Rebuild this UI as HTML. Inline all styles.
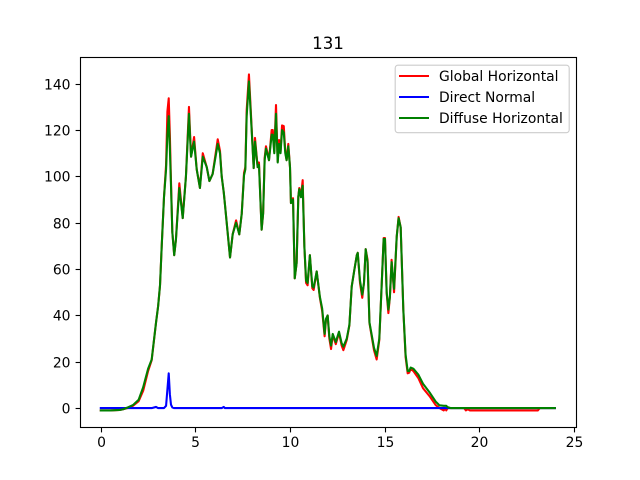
<!DOCTYPE html>
<html lang="en">
<head>
<meta charset="utf-8">
<title>131</title>
<style>
html,body{margin:0;padding:0;background:#fff}
svg{display:block}
text{font-family:"DejaVu Sans","Liberation Sans",sans-serif;fill:#000}
</style>
</head>
<body>
<svg id="chart" xmlns="http://www.w3.org/2000/svg" width="640" height="480" viewBox="0 0 640 480">
  <rect x="0" y="0" width="640" height="480" fill="#fff"/>
  <text x="328" y="49" font-size="16.67" text-anchor="middle">131</text>
  <g id="series"></g>
  <g id="axes"></g>
  <rect x="80.5" y="57.5" width="496" height="370" fill="none" stroke="#000" stroke-width="1.11"/>
  <g>
    <rect x="395.2" y="65.2" width="174" height="67.5" rx="2.8" fill="#fff" fill-opacity="0.8" stroke="#ccc" stroke-width="1.11"/>
    <line x1="399" x2="429" y1="76" y2="76" stroke="#f00" stroke-width="2.08"/>
    <text x="439" y="81" font-size="13.89">Global Horizontal</text>
    <line x1="399" x2="429" y1="97" y2="97" stroke="#00f" stroke-width="2.08"/>
    <text x="439" y="102" font-size="13.89">Direct Normal</text>
    <line x1="399" x2="429" y1="118" y2="118" stroke="#008000" stroke-width="2.08"/>
    <text x="439" y="123" font-size="13.89">Diffuse Horizontal</text>
  </g>
</svg>
<script>
const hours = [
  0,0.5,1.0,1.18,1.4,1.7,2.0,2.24,2.5,2.69,
  2.92,3.03,3.13,3.22,3.34,3.45,3.52,3.59,3.65,3.71,
  3.78,3.88,3.97,4.15,4.33,4.5,4.66,4.77,4.93,5.07,
  5.24,5.39,5.6,5.74,5.91,6.18,6.3,6.39,6.5,6.56,
  6.69,6.83,6.97,7.15,7.32,7.45,7.57,7.64,7.71,7.83,
  7.92,8.08,8.15,8.29,8.36,8.5,8.58,8.66,8.73,8.89,9.03,
  9.09,9.17,9.26,9.35,9.42,9.5,9.58,9.67,9.75,9.82,
  9.91,10.0,10.05,10.16,10.25,10.35,10.44,10.49,10.58,10.67,
  10.76,10.85,10.93,11.05,11.18,11.25,11.41,11.58,11.7,11.83,
  11.9,11.99,12.08,12.17,12.26,12.42,12.59,12.73,12.82,13.0,
  13.14,13.26,13.4,13.53,13.58,13.7,13.82,13.91,14.0,14.1,
  14.2,14.32,14.44,14.58,14.72,14.85,14.95,15.02,15.11,15.2,
  15.28,15.37,15.5,15.64,15.74,15.85,15.99,16.11,16.22,16.3,
  16.38,16.52,16.78,17.03,17.4,17.7,17.9,18.13,18.2,18.26,
  18.33,18.5,19.2,19.3,19.4,19.5,23.1,23.2,24
];
const globalHorizontal = [
  -1,-1,-0.8,-0.5,0,1,3,7.5,16,20.7,
  37,44,53,70,91,105,128,133.7,118,98,
  76,66,72.6,97,82,100,130,108.5,117,103,
  95,110,104,98,101,116,111,100,93,88,
  77,65,75,81,75,84,101.5,104,128.6,144,
  129.6,103.6,116.6,104,106,77,84,108,113,107,120,
  120,110.7,130.8,106.4,115.7,110.7,122,121.7,111,107,
  114,104,88.5,90.6,56,62.6,91.3,95,91.3,98.4,
  69.7,54,53,66,51.7,51,59,47.6,42,31,
  38,40,30,25.5,31.6,27.6,32.5,27,25,29.4,
  35.8,52.4,59.6,66,67,54,47.6,54,68.6,64,
  36.7,30.8,25,21,29.4,54,73.4,73.4,49.6,41,
  48,64,50,74,82.5,78,42.4,22,15,15.3,
  17,16,13,8.6,4.9,1.3,0,-1,0,-1,
  0,0,0,-1,-0.5,-1,-1,0,0
];
const directNormal = [
  0,0,0,0,0,0,0,0,0,0,
  0.5,0,0,0,0,1,8,15,6,1.5,
  0.3,0,0,0,0,0,0,0,0,0,
  0,0,0,0,0,0,0,0,0.5,0,
  0,0,0,0,0,0,0,0,0,0,
  0,0,0,0,0,0,0,0,0,0,0,
  0,0,0,0,0,0,0,0,0,0,
  0,0,0,0,0,0,0,0,0,0,
  0,0,0,0,0,0,0,0,0,0,
  0,0,0,0,0,0,0,0,0,0,
  0,0,0,0,0,0,0,0,0,0,
  0,0,0,0,0,0,0,0,0,0,
  0,0,0,0,0,0,0,0,0,0,
  0,0,0,0,0,0,0,0,0,0,
  0,0,0,0,0,0,0,0,0
];
const diffuseHorizontal = [
  -1,-1,-0.8,-0.5,0.2,1.3,3.6,9,17,21,
  37,44,53,70,91,103,118,126,112,96,
  76,66,72.6,95,82,100,127,108.5,115,103,
  95,108.5,104,98,101,114,110,100,93,88,
  77,65,75,80,75,84,100.5,103,126,141,
  128,103.6,115,104,105,77,84,107,112,107,118,
  118,110,127,106,114,110,120,119,110,107,
  113,104,88.5,90,56,62.6,91.3,94.5,91,96,
  69.7,55,54,66,52.5,52,59,48,43,32,
  38.5,40,31,27,32,28.5,33,28,26.5,30,
  36,52.4,59.6,66,67,55,49,54,68.6,63,
  37,31.5,26,22.5,30,54,73,73,50,42.5,
  48,63,51.5,74,82,78,42.4,23,16,16,
  17.5,17,14.5,10.5,6.5,2.8,1.2,1,1,1,
  0.4,0,0,0,0,0,0,0,0
];
const xTicks = [0,5,10,15,20,25];
const yTicks = [0,20,40,60,80,100,120,140];

const SVG_NS = 'http://www.w3.org/2000/svg';
const xScale = function (v) { return 100.8 + v * 18.92; };
const yScale = function (v) { return 408.1 - v * 2.317; };

const seriesGroup = document.getElementById('series');
const axesGroup = document.getElementById('axes');

function drawSeries(values, color, name) {
  const line = document.createElementNS(SVG_NS, 'polyline');
  
  
  line.setAttribute('points', values.map(function (v, i) {
    return xScale(hours[i]).toFixed(2) + ',' + yScale(v).toFixed(2);
  }).join(' '));
  line.setAttribute('fill', 'none');
  line.setAttribute('stroke', color);
  line.setAttribute('stroke-width', '2.08');
  line.setAttribute('stroke-linejoin', 'round');
  line.setAttribute('stroke-linecap', 'square');
  seriesGroup.appendChild(line);
}
drawSeries(globalHorizontal, '#f00', 'global-horizontal-line');
drawSeries(directNormal, '#00f', 'direct-normal-line');
drawSeries(diffuseHorizontal, '#008000', 'diffuse-horizontal-line');

xTicks.forEach(function (t) {
  const px = Math.round(xScale(t)) + 0.5;
  const mark = document.createElementNS(SVG_NS, 'line');
  
  
  mark.setAttribute('x1', px);
  mark.setAttribute('x2', px);
  mark.setAttribute('y1', 427.5);
  mark.setAttribute('y2', 432.4);
  mark.setAttribute('stroke', '#000');
  mark.setAttribute('stroke-width', '1.11');
  axesGroup.appendChild(mark);
  const label = document.createElementNS(SVG_NS, 'text');
  
  
  label.setAttribute('x', px);
  label.setAttribute('y', 447);
  label.setAttribute('font-size', '13.89');
  label.setAttribute('text-anchor', 'middle');
  label.textContent = String(t);
  axesGroup.appendChild(label);
});

yTicks.forEach(function (t) {
  const py = Math.round(yScale(t)) + 0.5;
  const mark = document.createElementNS(SVG_NS, 'line');
  
  
  mark.setAttribute('x1', 75.6);
  mark.setAttribute('x2', 80.5);
  mark.setAttribute('y1', py);
  mark.setAttribute('y2', py);
  mark.setAttribute('stroke', '#000');
  mark.setAttribute('stroke-width', '1.11');
  axesGroup.appendChild(mark);
  const label = document.createElementNS(SVG_NS, 'text');
  
  
  label.setAttribute('x', 70.5);
  label.setAttribute('y', py + 5);
  label.setAttribute('font-size', '13.89');
  label.setAttribute('text-anchor', 'end');
  label.textContent = String(t);
  axesGroup.appendChild(label);
});
</script>
</body>
</html>
